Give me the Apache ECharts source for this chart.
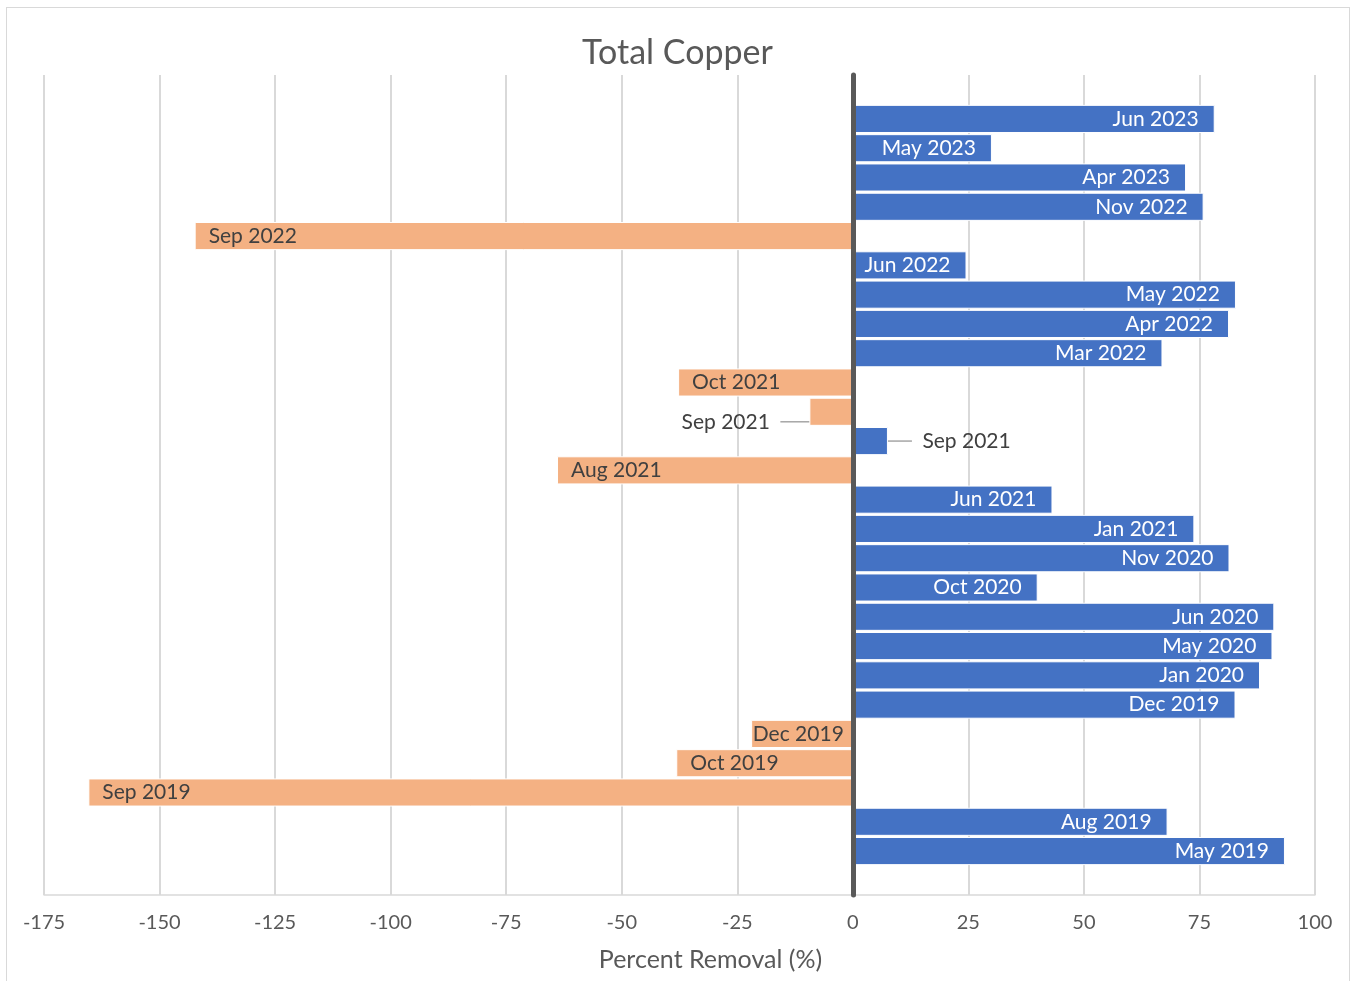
<!DOCTYPE html>
<html>
<head>
<meta charset="utf-8">
<title>Total Copper</title>
<script src="https://cdn.jsdelivr.net/npm/echarts@6/dist/echarts.min.js"></script>
<style>
  html, body { margin: 0; padding: 0; background: #ffffff; }
  #chart { width: 1355px; height: 981px; }
  #frame {
    position: absolute; left: 6px; top: 7px; width: 1344px; height: 990px;
    border: 1.5px solid #D9D9D9; box-sizing: border-box; pointer-events: none;
  }
</style>
</head>
<body>
<div id="chart"></div>
<div id="frame"></div>
<script>
// Sampling events, listed top to bottom
const months = [
  'Jun 2023', 'May 2023', 'Apr 2023', 'Nov 2022', 'Sep 2022', 'Jun 2022',
  'May 2022', 'Apr 2022', 'Mar 2022', 'Oct 2021', 'Sep 2021', 'Sep 2021',
  'Aug 2021', 'Jun 2021', 'Jan 2021', 'Nov 2020', 'Oct 2020', 'Jun 2020',
  'May 2020', 'Jan 2020', 'Dec 2019', 'Dec 2019', 'Oct 2019', 'Sep 2019',
  'Aug 2019', 'May 2019'
];

// Percent removal of total copper for each event
const removal = [
  78.3, 30.1, 72.1, 75.9, -142.4, 24.6,
  82.9, 81.4, 67.0, -37.8, -9.4, 7.6,
  -64.0, 43.2, 73.9, 81.5, 40.0, 91.2,
  90.8, 88.1, 82.8, -22.0, -38.2, -165.4,
  68.1, 93.5
];

// Value axis range and tick step
const axisMin = -175;
const axisMax = 100;
const axisStep = 25;

const POSITIVE = '#4472C4';
const NEGATIVE = '#F4B183';
const TEXT = '#595959';
const FONT = 'Lato, "Open Sans", sans-serif';

// One empty slot above and below the bars
const categories = [''].concat(months, ['']);

function labelFor(v) {
  const neg = v < 0;
  const len = Math.abs(v);
  const base = {
    show: true, formatter: '{b}', fontFamily: FONT, fontSize: 21,
    color: neg ? '#404040' : '#FFFFFF'
  };
  if (len < 12) {
    // too short for inside text: call out beside the bar, with a small
    // gap of blank space between the text and its guide line
    return Object.assign(base, {
      position: neg ? 'left' : 'right',
      distance: neg ? 29 : 24,
      color: '#404040',
      formatter: neg ? '{b}\u2002' : '\u2002{b}'
    });
  }
  if (neg && len < 26) {
    return Object.assign(base, { position: 'insideRight', distance: 9 });
  }
  return Object.assign(base, {
    position: neg ? 'insideLeft' : 'insideRight',
    distance: neg ? 14 : 16
  });
}

const barItems = removal.map(function (v) {
  const short = Math.abs(v) < 12;
  return {
    value: v,
    itemStyle: { color: v < 0 ? NEGATIVE : POSITIVE },
    label: labelFor(v),
    labelLine: {
      show: short,
      length2: v < 0 ? 12 : 22,
      lineStyle: { color: '#A6A6A6', width: 1.5 }
    }
  };
});

const seriesData = ['-'].concat(barItems, ['-']);

const chart = echarts.init(document.getElementById('chart'), null, { renderer: 'canvas' });

chart.setOption({
  animation: false,
  backgroundColor: '#ffffff',
  title: {
    text: 'Total Copper',
    left: 'center',
    top: 31,
    textStyle: { fontFamily: FONT, fontSize: 34, fontWeight: 'normal', color: TEXT }
  },
  grid: { left: 44, right: 40, top: 75, bottom: 86, containLabel: false },
  xAxis: {
    type: 'value',
    min: axisMin,
    max: axisMax,
    interval: axisStep,
    axisLine: { show: true, lineStyle: { color: '#D9D9D9', width: 1.5 } },
    axisTick: { show: false },
    splitLine: { show: true, lineStyle: { color: '#D9D9D9', width: 2 } },
    axisLabel: { color: TEXT, fontFamily: FONT, fontSize: 20, margin: 18 },
    name: 'Percent Removal (%)',
    nameLocation: 'middle',
    nameGap: 52,
    nameTextStyle: { color: TEXT, fontFamily: FONT, fontSize: 25, padding: [0, 0, 0, 62] }
  },
  yAxis: {
    type: 'category',
    inverse: true,
    data: categories,
    z: 5,
    axisLine: { show: true, onZero: true, lineStyle: { color: '#595959', width: 5 } },
    axisTick: { show: false },
    axisLabel: { show: false },
    splitLine: { show: false }
  },
  series: [{
    name: 'Percent Removal',
    type: 'bar',
    barCategoryGap: '4%',
    data: seriesData,
    itemStyle: { borderColor: '#FFFFFF', borderWidth: 1 },
    labelLayout: function (params) {
      const v = removal[params.dataIndex - 1];
      if (v != null && v < 0 && Math.abs(v) < 12) {
        return { dy: 10 };
      }
      return {};
    }
  }]
});
</script>
</body>
</html>
